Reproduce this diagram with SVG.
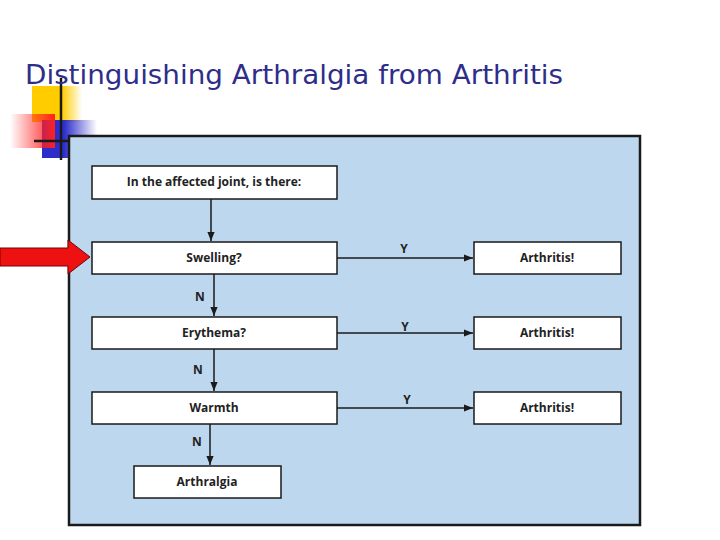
<svg xmlns="http://www.w3.org/2000/svg" width="720" height="540" viewBox="0 0 720 540">
<defs>
<style>
.box{fill:#fff;stroke:#1a1a1a;stroke-width:1.5}
.t{font-family:"Open Sans","DejaVu Sans",sans-serif;font-weight:bold;font-size:12px;fill:#222;text-anchor:middle}
.c{stroke:#1a1a1a;stroke-width:1.5;fill:none;marker-end:url(#ah)}
</style>
<marker id="ah" viewBox="0 0 10 10" refX="10" refY="5" markerWidth="6" markerHeight="6" orient="auto"><path d="M0,1L10,5L0,9z" fill="#1a1a1a"/></marker>
<linearGradient id="gy" x1="0" x2="1"><stop offset="0.6" stop-color="#ffcc00"/><stop offset="1" stop-color="#ffcc00" stop-opacity="0"/></linearGradient>
<linearGradient id="gr" x1="1" x2="0"><stop offset="0" stop-color="#ff2020"/><stop offset="1" stop-color="#ff2020" stop-opacity="0"/></linearGradient>
<linearGradient id="gb" x1="0" x2="1"><stop offset="0.4" stop-color="#2d2dcc"/><stop offset="1" stop-color="#2d2dcc" stop-opacity="0"/></linearGradient>
</defs>
<rect width="720" height="540" fill="#fff"/>
<g id="logo">
<rect x="32" y="86" width="50" height="36" fill="url(#gy)"/>
<rect x="42" y="120" width="55" height="38" fill="url(#gb)"/>
<rect x="10" y="114" width="45" height="34" fill="url(#gr)"/>
<line x1="61" y1="78" x2="61" y2="160" stroke="#1a1a1a" stroke-width="2.5"/>
<line x1="34" y1="141" x2="68" y2="141" stroke="#1a1a1a" stroke-width="2.5"/>
</g>
<text x="25" y="84" font-family="'DejaVu Sans',Verdana,sans-serif" font-size="27" fill="#2e2e8a" textLength="538" lengthAdjust="spacingAndGlyphs">Distinguishing Arthralgia from Arthritis</text>
<rect id="panel" x="69" y="136" width="571" height="389" fill="#bdd7ee" stroke="#1a1a1a" stroke-width="2.5"/>
<g id="pointer"><path d="M0,248H68V240L90,257L68,274V266H0z" fill="#ee1111" stroke="#7a0000" stroke-width="1"/></g>
<g id="q"><rect class="box" x="92" y="166" width="245" height="33"/><text class="t" x="214" y="186">In the affected joint, is there:</text></g>
<g id="swelling"><rect class="box" x="92" y="242" width="245" height="32"/><text class="t" x="214" y="262">Swelling?</text></g>
<g id="erythema"><rect class="box" x="92" y="317" width="245" height="32"/><text class="t" x="214" y="337">Erythema?</text></g>
<g id="warmth"><rect class="box" x="92" y="392" width="245" height="32"/><text class="t" x="214" y="412">Warmth</text></g>
<g id="arthralgia"><rect class="box" x="134" y="466" width="147" height="32"/><text class="t" x="207" y="486">Arthralgia</text></g>
<g id="a1"><rect class="box" x="474" y="242" width="147" height="32"/><text class="t" x="547" y="262">Arthritis!</text></g>
<g id="a2"><rect class="box" x="474" y="317" width="147" height="32"/><text class="t" x="547" y="337">Arthritis!</text></g>
<g id="a3"><rect class="box" x="474" y="392" width="147" height="32"/><text class="t" x="547" y="412">Arthritis!</text></g>
<g id="connectors">
<line class="c" x1="211" y1="199" x2="211" y2="241"/>
<line class="c" x1="214" y1="274" x2="214" y2="316"/>
<line class="c" x1="214" y1="349" x2="214" y2="391"/>
<line class="c" x1="210" y1="424" x2="210" y2="465"/>
<line class="c" x1="337" y1="258" x2="473" y2="258"/>
<line class="c" x1="337" y1="333" x2="473" y2="333"/>
<line class="c" x1="337" y1="408" x2="473" y2="408"/>
<text class="t" x="200" y="301">N</text>
<text class="t" x="198" y="374">N</text>
<text class="t" x="197" y="446">N</text>
<text class="t" x="404" y="253">Y</text>
<text class="t" x="405" y="331">Y</text>
<text class="t" x="407" y="404">Y</text>
</g>
</svg>
